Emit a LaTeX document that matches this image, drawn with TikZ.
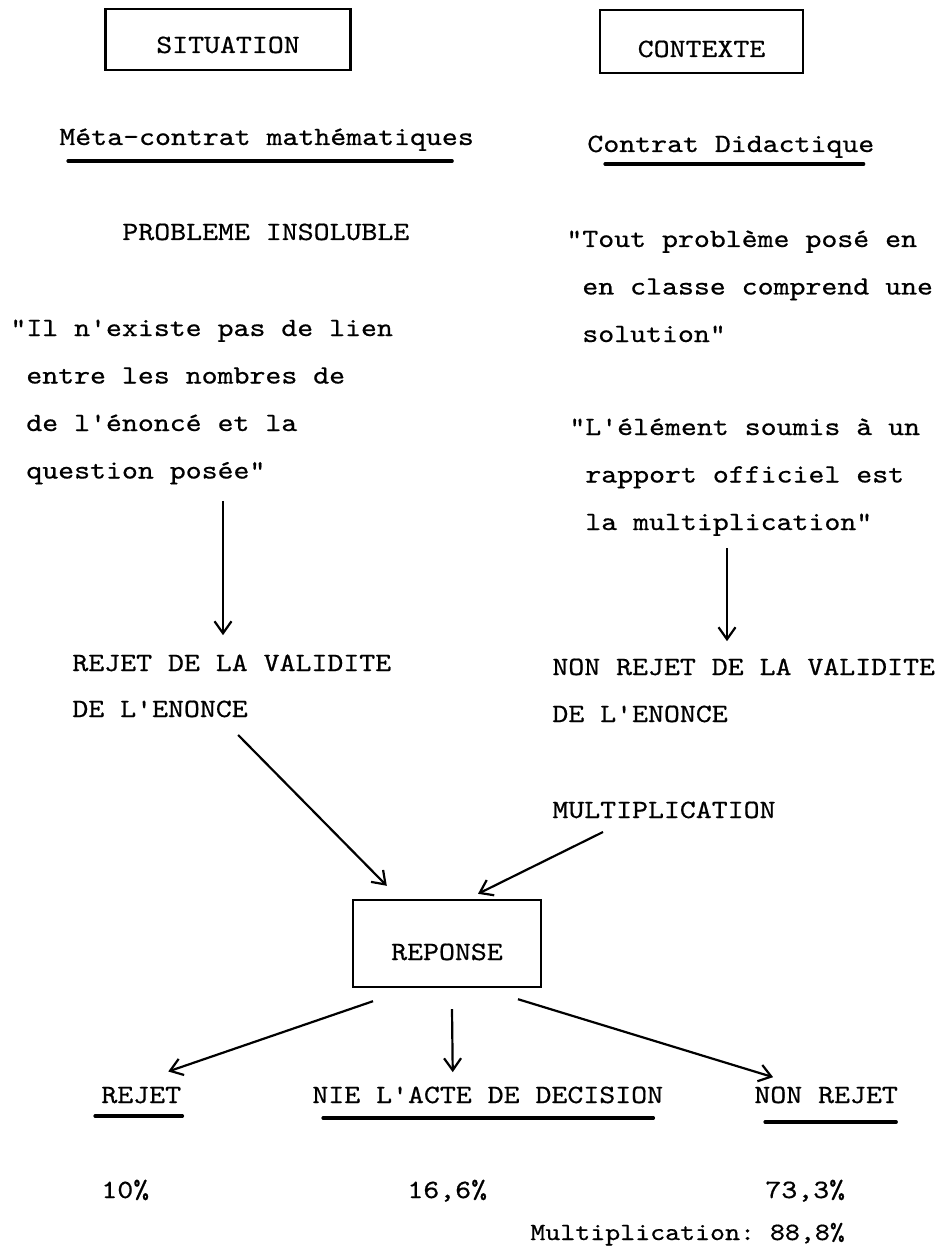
\documentclass[tikz,border=0pt]{standalone}
\usepackage{fontspec}
\setmonofont{lmmono10-regular.otf}[FakeStretch=1.15, FakeBold=0.6]
\usetikzlibrary{arrows.meta}
\newcommand{\typed}{\fontsize{13.2}{23.75}\selectfont\ttfamily}
\newcommand{\typedsmall}{\fontsize{12.4}{23.75}\selectfont\ttfamily}
\newcommand{\qind}{\hphantom{"}}
\tikzset{every node/.style={inner sep=0pt},
txt/.style={ % typed text, placed by the baseline of its last line
anchor=base west,
font=\typed,
align=left},
box/.style={draw, line width=1.2pt, font=\typed, text depth=0pt},
conn/.style={ % hand drawn arrows
line width=1.1pt,
-{Straight Barb[length=6pt,width=8.5pt]}},
uline/.style={line width=1.6pt, line cap=round}}

\begin{document}
\begin{tikzpicture}[x=0.5pt, y=-0.5pt]
\useasboundingbox (0,0) rectangle (936,1257);
% headings
\node[box, minimum width=122.5pt, minimum height=30.5pt, text height=13.5pt] (sit) at (228,39.5) {SITUATION};
\node[box, minimum width=101.5pt, minimum height=31.5pt, text height=15.5pt] (ctx) at (701.5,41.5) {CONTEXTE};
\node[txt] (meta) at (59,145) {Méta-contrat mathématiques};
\node[txt] (didac) at (587,152) {Contrat Didactique};
\draw[uline] ([shift={(9,16)}]meta.base west) -- ([shift={(-22,16)}]meta.base east);
\draw[uline] ([shift={(18,12)}]didac.base west) -- ([shift={(-11,12)}]didac.base east);
% left column
\node[txt] (insol) at (122,240) {PROBLEME INSOLUBLE};
\node[txt] (lien) at (10,478.5) {"Il n'existe pas de lien\\\qind entre les nombres de\\\qind de l'énoncé et la\\\qind question posée"};
\node[txt] (rejval) at (72,671) {REJET DE LA VALIDITE};
\node[txt] (enonceL) at (72,717) {DE L'ENONCE};
% right column
\node[txt] (tout) at (566,342) {"Tout problème posé en\\\qind en classe comprend une\\\qind solution"};
\node[txt] (elem) at (569,530) {"L'élément soumis à un\\\qind rapport officiel est\\\qind la multiplication"};
\node[txt] (nonval) at (552,675) {NON REJET DE LA VALIDITE};
\node[txt] (enonceR) at (552,722) {DE L'ENONCE};
\node[txt] (mult) at (552,818) {MULTIPLICATION};
\draw[conn, shorten <=8pt, shorten >=9.5pt] (lien.south -| 223,0) -- (rejval.north -| 223,0);
\draw[conn, shorten <=6pt, shorten >=8.5pt] (elem.south -| 727,0) -- (nonval.north -| 727,0);
% answer
\node[box, minimum width=94pt, minimum height=43.5pt, text height=16.5pt] (rep) at (447,943.5) {REPONSE};
\draw[conn] ([shift={(-10,18)}]enonceL.base east) -- ([shift={(35,-13)}]rep.north west);
\draw[conn] ([shift={(51,14)}]mult.base west) -- ([shift={(31,-5)}]rep.north);
\node[txt] (rejet) at (101,1103) {REJET};
\node[txt] (nie) at (312,1103) {NIE L'ACTE DE DECISION};
\node[txt] (nonrej) at (754,1103) {NON REJET};
\draw[conn] ([shift={(-74,13)}]rep.south) -- ([shift={(27,-15)}]rejet.north);
\draw[conn] ([shift={(5,21)}]rep.south) -- ([shift={(-35,-14)}]nie.north);
\draw[conn] ([shift={(71,11)}]rep.south) -- ([shift={(-53,-9)}]nonrej.north);
\draw[uline] ([shift={(-6,13)}]rejet.base west) -- ([shift={(1,13)}]rejet.base east);
\draw[uline] ([shift={(11,15)}]nie.base west) -- ([shift={(-10,15)}]nie.base east);
\draw[uline] ([shift={(11,19)}]nonrej.base west) -- ([shift={(-2,19)}]nonrej.base east);
% results
\node[txt] (p10) at (101,1198) {10\%};
\node[txt] (p16) at (407,1198) {16,6\%};
\node[txt] (p73) at (765,1198) {73,3\%};
\node[txt, font=\typedsmall] (multp) at (530,1240) {Multiplication: 88,8\%};
\end{tikzpicture}
\end{document}
